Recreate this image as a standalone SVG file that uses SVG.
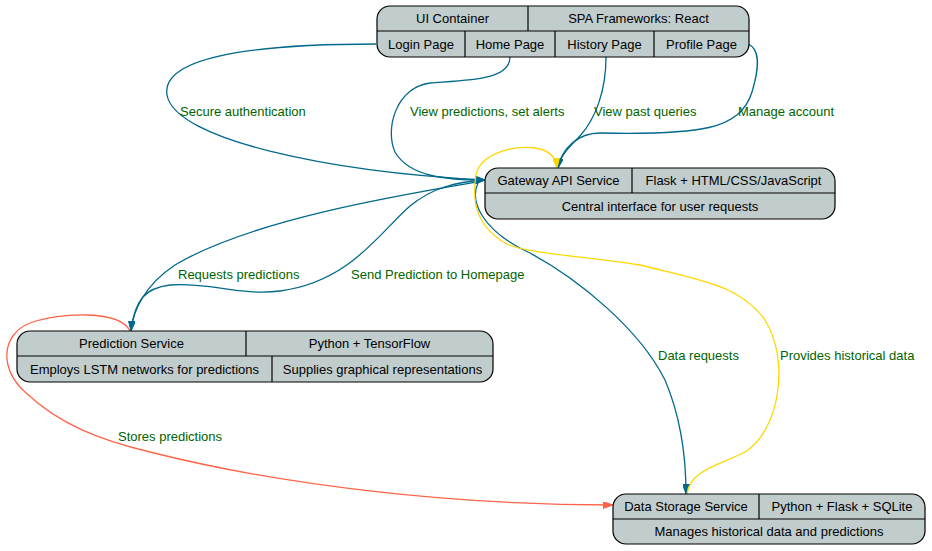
<svg xmlns="http://www.w3.org/2000/svg" width="932" height="551" viewBox="0 0 932 551">
<style>
.box{fill:#c1cdcd;stroke:#000;stroke-width:1.2}
.div{stroke:#000;stroke-width:1.2}
text{font-family:"Liberation Sans",Arial,sans-serif;font-size:13px}
.nt{fill:#000;text-anchor:middle}
.lb{fill:#006400}
.e{fill:none;stroke-width:1.3}
.t{stroke:#00688b}
.y{stroke:#ffd700}
.r{stroke:#ff6347}
</style>
<defs>
<marker id="at" viewBox="0 0 10 7" refX="10" refY="3.5" markerWidth="10" markerHeight="7" orient="auto" markerUnits="userSpaceOnUse"><path d="M0,0L10,3.5L0,7z" fill="#00688b" stroke="#00688b"/></marker>
<marker id="ay" viewBox="0 0 10 7" refX="10" refY="3.5" markerWidth="10" markerHeight="7" orient="auto" markerUnits="userSpaceOnUse"><path d="M0,0L10,3.5L0,7z" fill="#ffd700" stroke="#ffd700"/></marker>
<marker id="ar" viewBox="0 0 10 7" refX="10" refY="3.5" markerWidth="10" markerHeight="7" orient="auto" markerUnits="userSpaceOnUse"><path d="M0,0L10,3.5L0,7z" fill="#ff6347" stroke="#ff6347"/></marker>
</defs>
<g id="connectors">
<path class="e t" d="M376,44 C290,44 160,50 167,95 C175,140 330,172 485,180" marker-end="url(#at)"/>
<path class="e t" d="M510,57 C510,80 470,80 430,83 C395,88 385,130 395,152 C410,178 450,180 485,180" marker-end="url(#at)"/>
<path class="e t" d="M606,57 C606,90 596,118 580,136 C566,150 559,158 558,168" marker-end="url(#at)"/>
<path class="e t" d="M748,44 C762,50 758,72 752,92 C740,130 700,135 600,133 C578,133 562,148 558,168" marker-end="url(#at)"/>
<path class="e t" d="M477,182 C400,195 250,220 175,265 C145,285 133,310 131,331" marker-end="url(#at)"/>
<path class="e t" d="M131,330 C135,300 145,288 170,285 C210,282 240,296 280,291 C350,282 380,232 410,206 C432,188 455,182 485,180" marker-end="url(#at)"/>
<path class="e t" d="M478,183 C470,200 480,230 530,253 C580,280 640,330 665,380 C682,420 686,460 686,494" marker-end="url(#at)"/>
<path class="e y" d="M687,494 C690,470 720,465 745,452 C780,430 790,360 765,320 C740,285 700,280 640,265 C580,255 530,255 505,243 C475,225 472,200 476,175 C480,155 510,145 535,148 C550,150 556,158 557,168" marker-end="url(#ay)"/>
<path class="e r" d="M130,331 C120,310 60,312 30,323 C0,335 0,370 25,392 C60,425 100,440 150,452 C280,485 450,505 613,505" marker-end="url(#ar)"/>
<text class="lb" x="180" y="116">Secure authentication</text>
<text class="lb" x="410" y="116">View predictions, set alerts</text>
<text class="lb" x="594" y="116">View past queries</text>
<text class="lb" x="738" y="116">Manage account</text>
<text class="lb" x="178" y="279">Requests predictions</text>
<text class="lb" x="351" y="279">Send Prediction to Homepage</text>
<text class="lb" x="658" y="360">Data requests</text>
<text class="lb" x="780" y="360">Provides historical data</text>
<text class="lb" x="118" y="441">Stores predictions</text>
</g>
<g id="ui">
<rect class="box" x="377" y="6" width="372" height="51" rx="13"/>
<line class="div" x1="377" y1="31" x2="749" y2="31"/>
<line class="div" x1="528" y1="6" x2="528" y2="31"/>
<line class="div" x1="465" y1="31" x2="465" y2="57"/>
<line class="div" x1="555" y1="31" x2="555" y2="57"/>
<line class="div" x1="654" y1="31" x2="654" y2="57"/>
<text class="nt" x="452.5" y="23">UI Container</text>
<text class="nt" x="638.5" y="23">SPA Frameworks: React</text>
<text class="nt" x="421" y="48.5">Login Page</text>
<text class="nt" x="510" y="48.5">Home Page</text>
<text class="nt" x="604.5" y="48.5">History Page</text>
<text class="nt" x="701.5" y="48.5">Profile Page</text>
</g>
<g id="gateway">
<rect class="box" x="485" y="168" width="350" height="51" rx="13"/>
<line class="div" x1="485" y1="193" x2="835" y2="193"/>
<line class="div" x1="632" y1="168" x2="632" y2="193"/>
<text class="nt" x="558.5" y="185">Gateway API Service</text>
<text class="nt" x="733.5" y="185">Flask + HTML/CSS/JavaScript</text>
<text class="nt" x="660" y="210.5">Central interface for user requests</text>
</g>
<g id="prediction">
<rect class="box" x="17" y="331" width="476" height="51" rx="13"/>
<line class="div" x1="17" y1="356" x2="493" y2="356"/>
<line class="div" x1="246" y1="331" x2="246" y2="356"/>
<line class="div" x1="272" y1="356" x2="272" y2="382"/>
<text class="nt" x="131.5" y="348">Prediction Service</text>
<text class="nt" x="369.5" y="348">Python + TensorFlow</text>
<text class="nt" x="144.5" y="373.5">Employs LSTM networks for predictions</text>
<text class="nt" x="382.5" y="373.5">Supplies graphical representations</text>
</g>
<g id="storage">
<rect class="box" x="613" y="494" width="312" height="50" rx="13"/>
<line class="div" x1="613" y1="519" x2="925" y2="519"/>
<line class="div" x1="759" y1="494" x2="759" y2="519"/>
<text class="nt" x="686" y="511">Data Storage Service</text>
<text class="nt" x="842" y="511">Python + Flask + SQLite</text>
<text class="nt" x="769" y="536">Manages historical data and predictions</text>
</g>
</svg>
